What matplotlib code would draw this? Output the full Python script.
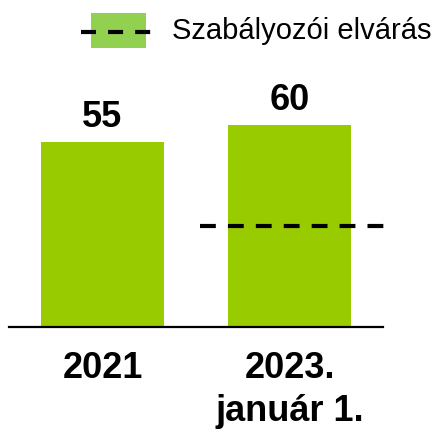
import matplotlib.pyplot as plt
from matplotlib.patches import Rectangle

# data
categories = ["2021", "2023.\njanuár 1."]
values = [55, 60]
requirement = 30
legend_label = "Szabályozói elvárás"

bar_color = "#99cc00"
legend_color = "#92d050"

plt.rcParams['font.family'] = ['Liberation Sans', 'DejaVu Sans']

fig = plt.figure(figsize=(4.38, 4.33), dpi=100)
ax = fig.add_axes([9 / 438, 1 - 327 / 433, 374 / 438, 246 / 433])

x = list(range(len(categories)))
bars = ax.bar(x, values, width=0.663, color=bar_color)

# value labels above bars
for b, v in zip(bars, values):
    ax.annotate(str(v), (b.get_x() + b.get_width() / 2, b.get_height()),
                xytext=(0, 5), textcoords="offset points",
                ha="center", va="bottom", fontsize=26, fontweight="bold")

# regulatory requirement (only for second period)
ax.plot([0.524, 1.508], [requirement, requirement], color="black", lw=3,
        dashes=(3.8, 2.9), clip_on=False)

ax.set_xlim(-0.5, 1.5)
ax.set_ylim(0, 73)
ax.set_xticks(x)
ax.set_xticklabels(categories, fontsize=26, fontweight="bold", linespacing=1.32)
ax.tick_params(axis="x", length=0, pad=17)
ax.set_yticks([])
for s in ["top", "right", "left"]:
    ax.spines[s].set_visible(False)
ax.spines["bottom"].set_linewidth(1.6)

# legend drawn by hand in an overlay axes (pixel units, line wider than patch)
lax = fig.add_axes([0, 0, 1, 1], zorder=5)
lax.set_xlim(0, 438)
lax.set_ylim(433, 0)
lax.axis("off")
lax.add_patch(Rectangle((91, 13), 55, 35, color=legend_color, lw=0, zorder=1))
lax.plot([81, 152], [32, 32], color="black", lw=3, dashes=(3.6, 2.9), zorder=2)
lax.text(172, 31, legend_label, fontsize=21, va="center", ha="left")

fig.savefig("out.png", dpi=100)
